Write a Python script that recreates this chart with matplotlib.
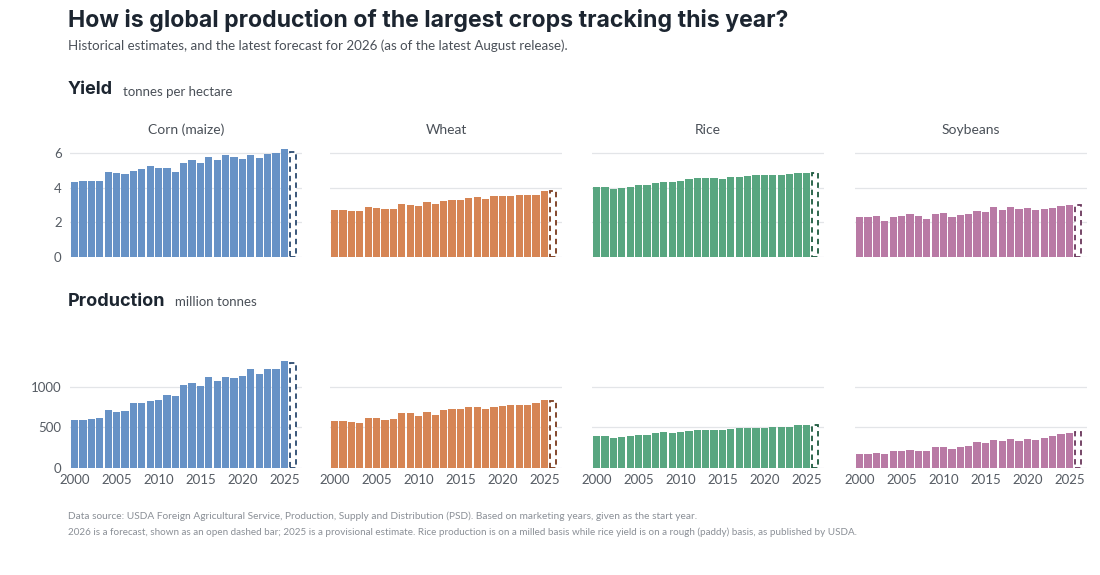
import matplotlib
matplotlib.use("Agg")
import matplotlib.pyplot as plt
import numpy as np

years = list(range(2000, 2027))
crops = ["Corn (maize)", "Wheat", "Rice", "Soybeans"]

corn_yield = [4.31, 4.39, 4.39, 4.41, 4.93, 4.84, 4.78, 4.97, 5.05, 5.26, 5.11, 5.16, 4.89,
              5.45, 5.61, 5.43, 5.78, 5.57, 5.86, 5.78, 5.65, 5.90, 5.73, 5.92, 5.98, 6.21, 6.05]
wheat_yield = [2.71, 2.71, 2.67, 2.67, 2.88, 2.80, 2.79, 2.79, 3.04, 3.02, 2.96, 3.15, 3.04,
               3.25, 3.31, 3.31, 3.38, 3.48, 3.37, 3.50, 3.50, 3.50, 3.58, 3.56, 3.58, 3.81, 3.83]
rice_yield = [4.02, 4.02, 3.91, 4.00, 4.06, 4.14, 4.16, 4.29, 4.35, 4.33, 4.39, 4.51, 4.56,
              4.53, 4.55, 4.51, 4.60, 4.64, 4.68, 4.74, 4.74, 4.74, 4.74, 4.80, 4.84, 4.86, 4.87]
soy_yield = [2.32, 2.28, 2.38, 2.09, 2.28, 2.34, 2.46, 2.38, 2.19, 2.51, 2.53, 2.32, 2.42,
             2.48, 2.67, 2.61, 2.88, 2.73, 2.88, 2.75, 2.82, 2.73, 2.75, 2.80, 2.92, 3.00, 3.02]

corn_prod = [587, 595, 599, 620, 715, 694, 702, 798, 798, 826, 843, 901, 893,
             1029, 1050, 1017, 1124, 1079, 1124, 1116, 1132, 1219, 1157, 1227, 1227, 1322, 1293]
wheat_prod = [579, 579, 566, 550, 620, 616, 591, 603, 682, 682, 640, 690, 653,
              711, 727, 731, 748, 756, 723, 756, 769, 773, 781, 781, 798, 839, 826]
rice_prod = [393, 393, 368, 388, 393, 413, 413, 430, 446, 434, 446, 459, 467,
             467, 475, 471, 483, 488, 488, 488, 496, 504, 508, 512, 537, 537, 533]
soy_prod = [169, 178, 190, 178, 211, 211, 227, 215, 207, 256, 256, 236, 264,
            277, 318, 310, 343, 339, 355, 339, 364, 351, 368, 393, 417, 426, 442]

yield_ticks = [0, 2, 4, 6]
prod_ticks = [0, 500, 1000]
year_ticks = [2000, 2005, 2010, 2015, 2020, 2025]

fills = ["#6792c6", "#d68554", "#58a680", "#b97aa5"]
edges = ["#2b4a70", "#7a3a1c", "#1e5a3f", "#6a375c"]

yields = [corn_yield, wheat_yield, rice_yield, soy_yield]
prods = [corn_prod, wheat_prod, rice_prod, soy_prod]

W, H = 1100, 575
fig = plt.figure(figsize=(11, 5.75), dpi=100)
fig.patch.set_facecolor("white")

def fx(px):
    return px / W

def fy(py):
    return 1 - py / H

TXT = "#1c2530"
GREY = "#555b63"
lefts = [70, 330, 592, 855]
pw = 232

def draw(ax, vals, i, ylim, ticks, show_y, show_x):
    hist_x = years[:-1]
    ax.bar(hist_x, vals[:-1], width=0.86, color=fills[i], edgecolor="none", zorder=2)
    ax.bar(years[-1], vals[-1], width=0.75, facecolor="white", edgecolor=edges[i],
           linestyle=(0, (3, 2.2)), linewidth=1.3, zorder=2)
    ax.set_xlim(1999.45, 2027.1)
    ax.set_ylim(0, ylim)
    ax.set_yticks(ticks)
    ax.grid(axis="y", color="#e3e5e8", linewidth=0.9, zorder=0)
    ax.set_axisbelow(True)
    for s in ax.spines.values():
        s.set_visible(False)
    ax.tick_params(length=0, labelsize=9.5, labelcolor=GREY)
    ax.tick_params(axis="y", pad=6)
    if not show_y:
        ax.set_yticklabels([])
    else:
        for t in ax.get_yticklabels():
            t.set_family("Lato")
    if show_x:
        ax.set_xticks(year_ticks)
        ax.tick_params(axis="x", pad=4)
        for t in ax.get_xticklabels():
            t.set_family("Lato")
    else:
        ax.set_xticks([])

for i in range(4):
    ax = fig.add_axes([fx(lefts[i]), fy(257), fx(pw), (257 - 148) / H])
    draw(ax, yields[i], i, 6.29, yield_ticks, i == 0, False)
    fig.text(fx(lefts[i] + pw / 2), fy(130), crops[i], ha="center", va="center",
             fontsize=10, color="#4a5058", family="Lato")
    ax2 = fig.add_axes([fx(lefts[i]), fy(468), fx(pw), (468 - 355) / H])
    draw(ax2, prods[i], i, 1395, prod_ticks, i == 0, True)

fig.text(fx(68), fy(20), "How is global production of the largest crops tracking this year?",
         fontsize=16.6, fontweight="bold", color=TXT, family="Inter", va="center")
fig.text(fx(68), fy(46), "Historical estimates, and the latest forecast for 2026 (as of the latest August release).",
         fontsize=9.65, color="#4a5058", family="Lato", va="center")

fig.text(fx(68), fy(90), "Yield", fontsize=13, fontweight="bold", color=TXT,
         family="Inter", va="center")
fig.text(fx(123), fy(92), "tonnes per hectare", fontsize=9.5, color="#4a5058",
         family="Lato", va="center")
fig.text(fx(68), fy(301), "Production", fontsize=13, fontweight="bold", color=TXT,
         family="Inter", va="center")
fig.text(fx(175), fy(302), "million tonnes", fontsize=9.5, color="#4a5058",
         family="Lato", va="center")

fig.text(fx(68), fy(516), "Data source: USDA Foreign Agricultural Service, Production, Supply and Distribution (PSD). Based on marketing years, given as the start year.",
         fontsize=7.25, color="#8a8f96", family="Lato", va="center")
fig.text(fx(68), fy(532), "2026 is a forecast, shown as an open dashed bar; 2025 is a provisional estimate. Rice production is on a milled basis while rice yield is on a rough (paddy) basis, as published by USDA.",
         fontsize=7.15, color="#8a8f96", family="Lato", va="center")

fig.savefig("out.png", dpi=100, facecolor="white")
